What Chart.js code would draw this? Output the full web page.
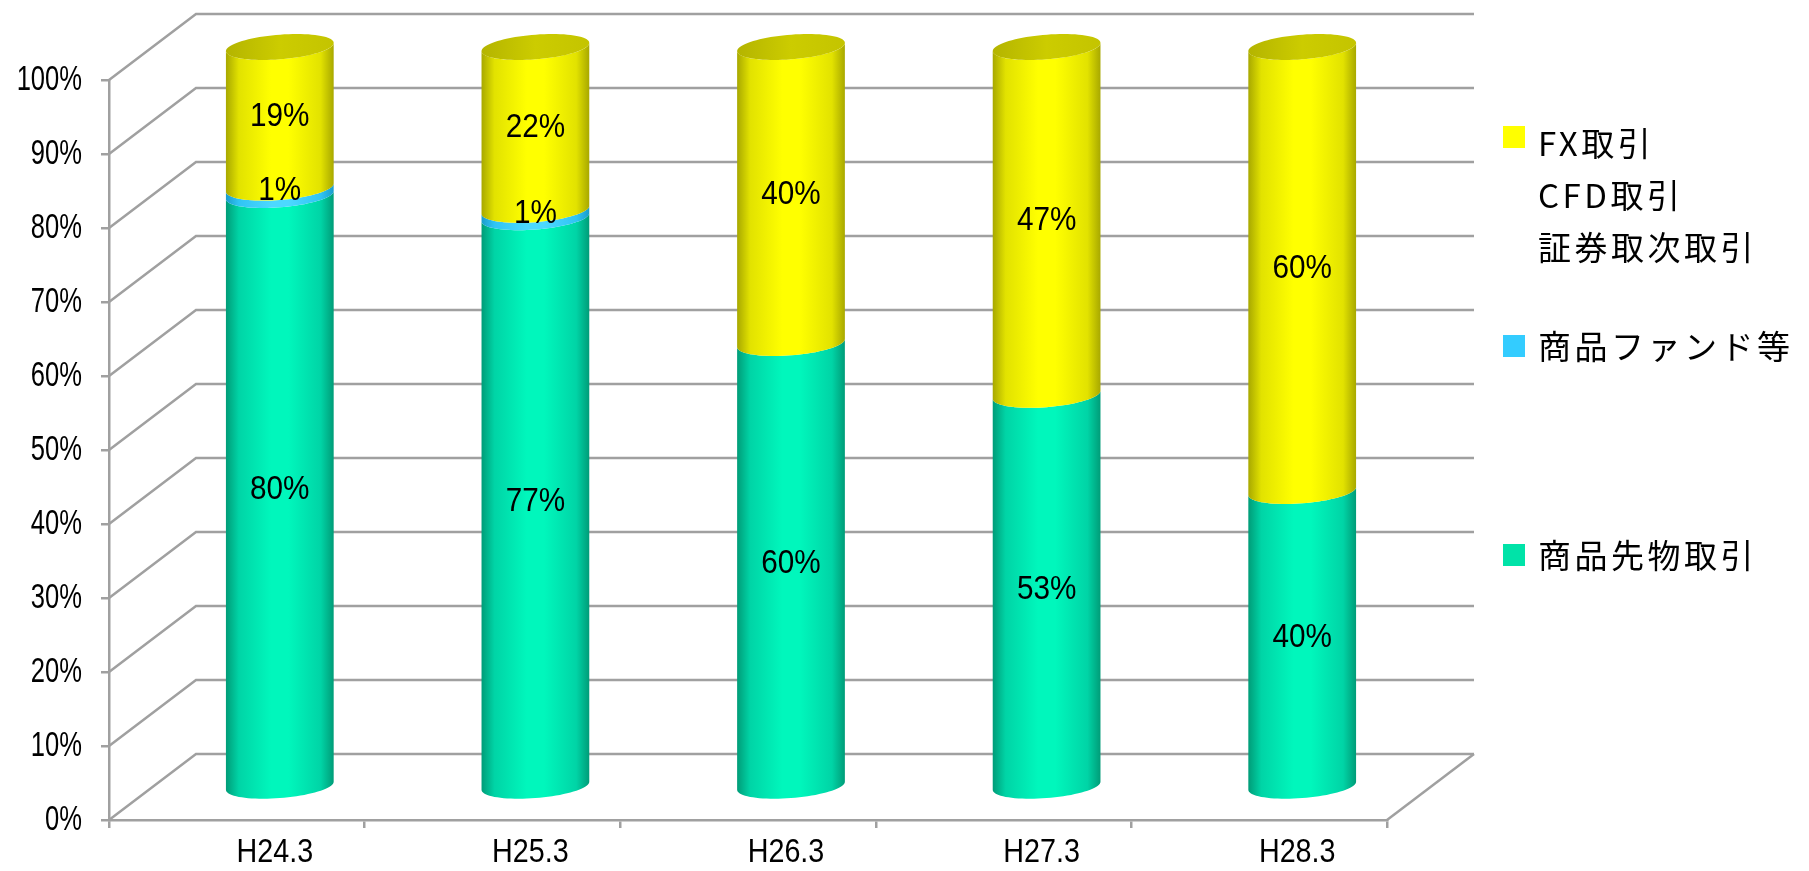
<!DOCTYPE html>
<html>
<head>
<meta charset="utf-8">
<script src="https://cdn.jsdelivr.net/npm/chart.js@4/dist/chart.umd.min.js"></script>
<style>
    body { margin: 0; background: #fff; }
    .wrap { position: relative; width: 1809px; height: 871px; }
    .legend { position: absolute; left: 1503px; font-family: "Noto Sans CJK JP", sans-serif; font-size: 33px; letter-spacing: 3.5px; line-height: 52px; color: #000; }
    .legend .box { position: absolute; left: 0; width: 22px; height: 22px; }
    .legend .txt { position: absolute; left: 35px; white-space: nowrap; }
</style>
</head>
<body>
<div class="wrap">
    <canvas id="chart" width="1809" height="871"></canvas>
    <div class="legend" style="top:116px">
        <div class="box" style="top:10px;background:#ffff00"></div>
        <div class="txt">FX取引<br>CFD取引<br>証券取次取引</div>
    </div>
    <div class="legend" style="top:319px">
        <div class="box" style="top:16px;background:#33ccff"></div>
        <div class="txt">商品ファンド等</div>
    </div>
    <div class="legend" style="top:528px">
        <div class="box" style="top:16px;background:#00e3a8"></div>
        <div class="txt">商品先物取引</div>
    </div>
</div>
<script>
const categories = ['H24.3', 'H25.3', 'H26.3', 'H27.3', 'H28.3'];
const futures = [80, 77, 60, 53, 40];   // 商品先物取引
const funds = [1, 1, 0, 0, 0];          // 商品ファンド等
const fxCfd = [19, 22, 40, 47, 60];     // FX取引 CFD取引 証券取次取引
const yMax = 100;
const yStep = 10;

// 3D look: back wall offset and the plane the cylinders stand in
const BACK_DX = 87, BACK_DY = -66;
const MID_DX = 43, MID_DY = -33;
const CYL_A = 17, CYL_B = 13;
const GRID = '#a0a0a0';
const FONT = '"Liberation Sans", Arial, sans-serif';

const shades = {
    green: ['#009c78', '#00d4a6', '#00f7bc'],
    blue: ['#1a9ccc', '#30c4f4', '#4cd8ff'],
    yellow: ['#a8a800', '#e2e200', '#ffff00']
};

function pt(cx, cy, R, t) {
    return [cx + R * Math.cos(t) + CYL_A * Math.sin(t), cy - CYL_B * Math.sin(t)];
}

function bodyGradient(ctx, cx, S, c) {
    const g = ctx.createLinearGradient(cx - S, 0, cx + S, 0);
    g.addColorStop(0, c[0]);
    g.addColorStop(0.12, c[1]);
    g.addColorStop(0.42, c[2]);
    g.addColorStop(0.58, c[2]);
    g.addColorStop(0.88, c[1]);
    g.addColorStop(1, c[0]);
    return g;
}

function drawBody(ctx, cx, yTop, yBot, R, c) {
    const t0 = Math.PI + Math.atan2(CYL_A, R);
    const S = Math.sqrt(R * R + CYL_A * CYL_A);
    const n = 40;
    ctx.beginPath();
    let p = pt(cx, yTop, R, t0);
    ctx.moveTo(p[0], p[1]);
    for (let k = 0; k <= n; k++) {
        p = pt(cx, yBot, R, t0 + Math.PI * k / n);
        ctx.lineTo(p[0], p[1]);
    }
    for (let k = n; k >= 0; k--) {
        p = pt(cx, yTop, R, t0 + Math.PI * k / n);
        ctx.lineTo(p[0], p[1]);
    }
    ctx.closePath();
    ctx.fillStyle = bodyGradient(ctx, cx, S, c);
    ctx.fill();
}

function drawCap(ctx, cx, y, R) {
    const S = Math.sqrt(R * R + CYL_A * CYL_A);
    const g = ctx.createLinearGradient(cx - S, 0, cx + S, 0);
    g.addColorStop(0, '#b4b400');
    g.addColorStop(0.5, '#cccc00');
    g.addColorStop(1, '#c4c400');
    ctx.beginPath();
    for (let k = 0; k <= 80; k++) {
        const p = pt(cx, y, R, Math.PI * 2 * k / 80);
        k ? ctx.lineTo(p[0], p[1]) : ctx.moveTo(p[0], p[1]);
    }
    ctx.closePath();
    ctx.fillStyle = g;
    ctx.fill();
}

// condensed text, the original uses a narrow face
function narrowText(ctx, txt, x, y, size, sx, align) {
    ctx.save();
    ctx.translate(x, y);
    ctx.scale(sx, 1);
    ctx.font = size + 'px ' + FONT;
    ctx.textAlign = align;
    ctx.textBaseline = 'middle';
    ctx.fillStyle = '#000';
    ctx.fillText(txt, 0, 0);
    ctx.restore();
}

const wallPlugin = {
    id: 'wall',
    beforeDatasetsDraw(chart) {
        const ctx = chart.ctx;
        const y = chart.scales.y;
        const area = chart.chartArea;
        ctx.save();
        ctx.strokeStyle = GRID;
        ctx.lineWidth = 2.5;
        for (let v = 0; v <= yMax; v += yStep) {
            const py = y.getPixelForValue(v);
            ctx.beginPath();
            ctx.moveTo(area.left, py);
            ctx.lineTo(area.left + BACK_DX, py + BACK_DY);
            ctx.lineTo(area.right + BACK_DX, py + BACK_DY);
            ctx.stroke();
        }
        ctx.beginPath();
        ctx.moveTo(area.right, area.bottom);
        ctx.lineTo(area.right + BACK_DX, area.bottom + BACK_DY);
        ctx.stroke();
        ctx.restore();
    },
    beforeDatasetDraw() {
        return false;
    },
    afterDatasetsDraw(chart) {
        const ctx = chart.ctx;
        const sets = chart.data.datasets;
        categories.forEach((c, i) => {
            let top = null;
            sets.forEach((ds, d) => {
                if (!ds.data[i]) return;
                const bar = chart.getDatasetMeta(d).data[i];
                drawBody(ctx, bar.x + MID_DX, bar.y + MID_DY, bar.base + MID_DY, bar.width / 2, ds.shade);
                top = bar;
            });
            if (top) drawCap(ctx, top.x + MID_DX, top.y + MID_DY, top.width / 2);
        });
        sets.forEach((ds, d) => {
            chart.getDatasetMeta(d).data.forEach((bar, i) => {
                if (!ds.data[i]) return;
                narrowText(ctx, ds.data[i] + '%', bar.x + MID_DX, (bar.y + bar.base) / 2 + MID_DY, 33, 0.9, 'center');
            });
        });
    },
    afterDraw(chart) {
        const ctx = chart.ctx;
        const x = chart.scales.x, y = chart.scales.y;
        y.ticks.forEach((t, i) => {
            narrowText(ctx, t.label, y.right - 27, y.getPixelForTick(i), 35, 0.73, 'right');
        });
        x.ticks.forEach((t, i) => {
            narrowText(ctx, t.label, x.getPixelForTick(i) + 38, x.top + 33, 33, 0.87, 'center');
        });
    }
};

new Chart(document.getElementById('chart'), {
    type: 'bar',
    data: {
        labels: categories,
        datasets: [
            { label: '商品先物取引', data: futures, backgroundColor: '#00e3a8', shade: shades.green },
            { label: '商品ファンド等', data: funds, backgroundColor: '#33ccff', shade: shades.blue },
            { label: 'FX取引 CFD取引 証券取次取引', data: fxCfd, backgroundColor: '#ffff00', shade: shades.yellow }
        ]
    },
    options: {
        responsive: false,
        animation: false,
        layout: { padding: { top: 80, right: 422, left: 0, bottom: 0 } },
        datasets: { bar: { categoryPercentage: 1, barPercentage: 0.4 } },
        plugins: { legend: { display: false }, tooltip: { enabled: false } },
        scales: {
            x: {
                stacked: true,
                afterFit: s => { s.height = 51; },
                grid: { drawOnChartArea: false, tickLength: 8, color: GRID, lineWidth: 2.5 },
                border: { color: GRID, width: 2.5 },
                ticks: { color: 'rgba(0,0,0,0)', font: { family: FONT, size: 30 }, maxRotation: 0 }
            },
            y: {
                stacked: true,
                min: 0,
                max: yMax,
                afterFit: s => { s.width = 109; },
                grid: { drawOnChartArea: false, tickLength: 8, color: GRID, lineWidth: 2.5 },
                border: { color: GRID, width: 2.5 },
                ticks: { stepSize: yStep, color: 'rgba(0,0,0,0)', font: { family: FONT, size: 30 }, callback: v => v + '%' }
            }
        }
    },
    plugins: [wallPlugin]
});
</script>
</body>
</html>
